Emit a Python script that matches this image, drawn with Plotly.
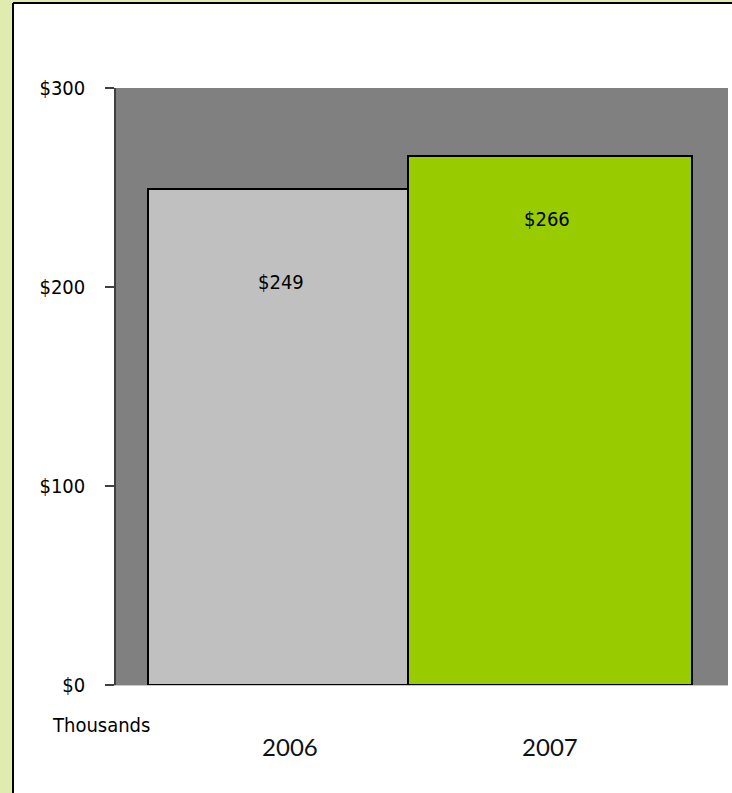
import plotly.graph_objects as go

categories = ["2006", "2007"]
values = [249, 266]
bar_colors = ["#c0c0c0", "#99cc00"]
value_labels = ["&#36;249", "&#36;266"]
label_yshift = [-93, -63]
label_xshift = [-9, -3]
y_ticks = [0, 100, 200, 300]
y_tick_labels = ["&#36;0", "&#36;100", "&#36;200", "&#36;300"]

W, H = 732, 793
L, R, T, B = 116, 4, 88, 108
pw, ph = W - L - R, H - T - B

def px_x(p):
    return (p - L) / pw

def px_y(p):
    return ((H - p) - B) / ph

NARROW = "Liberation Sans Narrow, DejaVu Sans Condensed, Liberation Sans"

fig = go.Figure()
fig.add_trace(go.Bar(
    x=categories, y=values, width=1.09,
    marker=dict(color=bar_colors, line=dict(color="#000000", width=2)),
    hoverinfo="skip",
))

for i, (v, t, ys, xs) in enumerate(zip(values, value_labels, label_yshift, label_xshift)):
    fig.add_annotation(x=i, y=v, xref="x", yref="y", text=t, showarrow=False,
                       yshift=ys, xshift=xs, yanchor="middle",
                       font=dict(family=NARROW, size=20, color="#000"))

fig.add_annotation(xref="paper", yref="paper", x=px_x(101), y=px_y(725), text="Thousands",
                   showarrow=False, xanchor="center", yanchor="middle",
                   font=dict(family=NARROW, size=20, color="#000"))

# page frame: light green strips on left and top with black border lines
GREEN = "#e0ebb0"
fig.add_shape(type="rect", xref="paper", yref="paper", layer="above",
              x0=px_x(-5), x1=px_x(13), y0=px_y(820), y1=px_y(-5),
              fillcolor=GREEN, line_width=0)
fig.add_shape(type="rect", xref="paper", yref="paper", layer="above",
              x0=px_x(-5), x1=px_x(760), y0=px_y(3), y1=px_y(-5),
              fillcolor=GREEN, line_width=0)
fig.add_shape(type="line", xref="paper", yref="paper", layer="above",
              x0=px_x(13), x1=px_x(13), y0=px_y(820), y1=px_y(3),
              line=dict(color="#000000", width=2))
fig.add_shape(type="line", xref="paper", yref="paper", layer="above",
              x0=px_x(13), x1=px_x(760), y0=px_y(3), y1=px_y(3),
              line=dict(color="#000000", width=2))

fig.update_layout(
    width=W, height=H,
    margin=dict(l=L, r=R, t=T, b=B),
    paper_bgcolor="#ffffff",
    plot_bgcolor="#808080",
    showlegend=False,
    bargap=0,
    xaxis=dict(
        type="category", range=[-0.669, 1.685],
        showgrid=False, zeroline=False, showline=True, linecolor="#c8c8c8", linewidth=1,
        ticks="", ticklabelstandoff=41,
        tickfont=dict(family="Lato, Noto Sans", size=24, color="#111"),
    ),
    yaxis=dict(
        range=[0, 300], tickvals=y_ticks, ticktext=y_tick_labels,
        showgrid=False, zeroline=False, showline=True, linecolor="#404040", linewidth=1.5,
        ticks="outside", ticklen=9, tickcolor="#404040", tickwidth=1.5,
        ticklabelstandoff=16,
        tickfont=dict(family=NARROW, size=20, color="#000"),
    ),
)

fig.write_html("out.html", config={"displayModeBar": False},
               post_script="document.body.style.margin='0';document.body.style.overflow='hidden';")
